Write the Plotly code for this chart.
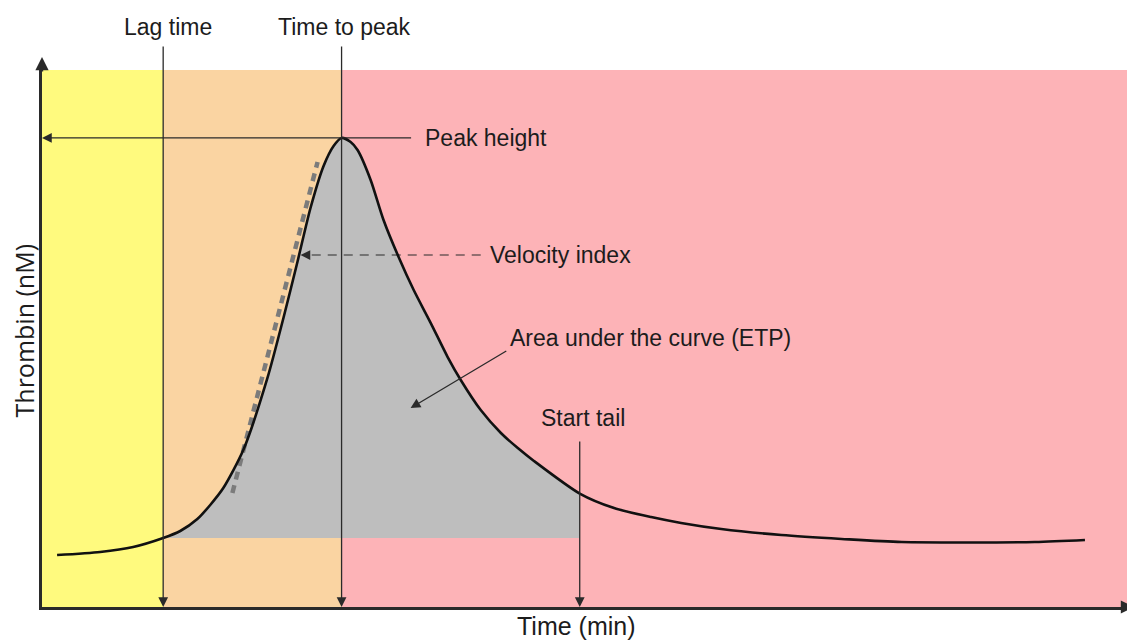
import plotly.graph_objects as go

# ---------------- data ----------------
time_min = [0.83, 3.20, 5.02, 6.67, 7.61, 8.55, 9.26, 9.98, 11.08, 12.41,
            13.29, 14.06, 14.78, 15.50, 16.05, 16.49, 16.99, 17.37, 18.09, 18.80,
            19.63, 20.46, 21.40, 22.33, 23.05, 24.15, 25.26, 26.19, 27.08, 29.60,
            31.49, 33.53, 35.18, 37.39, 40.70, 44.01, 47.32, 54.65, 57.41]
thrombin_nM = [38.7, 41.0, 44.7, 51.4, 56.6, 65.5, 76.0, 88.6, 116.9, 170.6,
               215.3, 257.0, 297.2, 328.5, 343.4, 349.4, 346.4, 340.4, 318.1, 288.3,
               260.7, 236.1, 211.5, 186.2, 169.1, 146.7, 129.6, 118.4, 108.8, 84.5,
               73.7, 67.0, 62.6, 58.1, 53.6, 50.7, 48.4, 48.4, 49.9]

lag_time = 6.67
time_to_peak = 16.49
peak_height = 349.4
start_tail = 29.60
etp_baseline = 51.4

velocity_tangent_t = [10.48, 15.17]
velocity_tangent_y = [84.9, 331.5]
velocity_point_t = 14.23
velocity_point_y = 262.2

x_range = [0, 60]
y_range = [0, 400]

# phases (background bands)
phase_starts = [0, lag_time, time_to_peak]
phase_ends = [lag_time, time_to_peak, x_range[1]]
phase_colors = ["#FFFA7E", "#FAD4A2", "#FDB3B7"]

TXT = "#1c1c1c"
LINE = "#2a2a2a"
FONT = "Liberation Sans, Arial, sans-serif"

fig = go.Figure()

# ETP area (grey), between the baseline and the curve, from lag time to start tail
i0 = time_min.index(lag_time)
i1 = time_min.index(start_tail)
fig.add_trace(go.Scatter(x=[lag_time, start_tail], y=[etp_baseline, etp_baseline],
                         mode="lines", line=dict(width=0, color="rgba(0,0,0,0)"),
                         hoverinfo="skip", showlegend=False))
fig.add_trace(go.Scatter(x=time_min[i0:i1 + 1], y=thrombin_nM[i0:i1 + 1],
                         mode="lines", line=dict(width=0, shape="spline", smoothing=0.7),
                         fill="tonexty", fillcolor="#BEBEBE",
                         hoverinfo="skip", showlegend=False))

# velocity index tangent (thick grey dashes)
fig.add_trace(go.Scatter(x=velocity_tangent_t, y=velocity_tangent_y, mode="lines",
                         line=dict(color="#7b7b7b", width=4.5, dash="8px,6px"),
                         hoverinfo="skip", showlegend=False))

# velocity index pointer (thin dashed)
fig.add_trace(go.Scatter(x=[24.15, velocity_point_t + 0.35], y=[velocity_point_y, velocity_point_y],
                         mode="lines", line=dict(color=LINE, width=1.2, dash="9px,7px"),
                         hoverinfo="skip", showlegend=False))

# thrombin generation curve
fig.add_trace(go.Scatter(x=time_min, y=thrombin_nM, mode="lines",
                         line=dict(color="#111111", width=2.6, shape="spline", smoothing=0.7),
                         hoverinfo="skip", showlegend=False))

# background bands
shapes = []
for x0, x1, c in zip(phase_starts, phase_ends, phase_colors):
    shapes.append(dict(type="rect", xref="x", yref="paper", x0=x0, x1=x1, y0=0, y1=1,
                       fillcolor=c, line=dict(width=0), layer="below"))

ann = []
arrow_common = dict(showarrow=True, arrowhead=2, arrowsize=1.5, arrowwidth=1.3,
                    arrowcolor=LINE, text="", font=dict(size=1), standoff=0)

# vertical indicator arrows
for t, ay in [(lag_time, -562), (time_to_peak, -562), (start_tail, -167)]:
    ann.append(dict(x=t, y=0, xref="x", yref="y", ax=0, ay=ay, **arrow_common))

# peak height arrow to the y axis
ann.append(dict(x=0, y=peak_height, xref="x", yref="y", ax=20.40, ay=peak_height,
                axref="x", ayref="y", **arrow_common))
# velocity index arrow head
ann.append(dict(x=velocity_point_t, y=velocity_point_y, xref="x", yref="y", ax=10, ay=0,
                **arrow_common))
# area arrow
ann.append(dict(x=20.29, y=148.2, xref="x", yref="y", ax=25.64, ay=191.4,
                axref="x", ayref="y", **arrow_common))

# axis arrow heads
ann.append(dict(x=0, y=1.024, xref="x", yref="paper", ax=0, ay=16, showarrow=True,
                arrowhead=2, arrowsize=1.1, arrowwidth=2.4, arrowcolor=LINE, text="",
                font=dict(size=1), standoff=0))
ann.append(dict(x=1.004, y=0, xref="paper", yref="y", ax=-16, ay=0, showarrow=True,
                arrowhead=2, arrowsize=1.1, arrowwidth=2.4, arrowcolor=LINE, text="",
                font=dict(size=1), standoff=0))

# text labels
lab = dict(showarrow=False, font=dict(family=FONT, size=23, color=TXT))
ann.append(dict(text="Lag time", x=lag_time + 0.25, y=1.081, xref="x", yref="paper",
                xanchor="center", yanchor="middle", **lab))
ann.append(dict(text="Time to peak", x=time_to_peak + 0.15, y=1.081, xref="x", yref="paper",
                xanchor="center", yanchor="middle", **lab))
ann.append(dict(text="Peak height", x=20.96, y=peak_height, xref="x", yref="y",
                xanchor="left", yanchor="middle", **lab))
ann.append(dict(text="Velocity index", x=24.54, y=velocity_point_y, xref="x", yref="y",
                xanchor="left", yanchor="middle", **lab))
ann.append(dict(text="Area under the curve (ETP)", x=25.64, y=200.4, xref="x", yref="y",
                xanchor="left", yanchor="middle", **lab))
ann.append(dict(text="Start tail", x=start_tail + 0.2, y=140.8, xref="x", yref="y",
                xanchor="center", yanchor="middle", **lab))

ann.append(dict(text="Time (min)", x=0.49, y=-0.036, xref="paper", yref="paper",
                xanchor="center", yanchor="middle", showarrow=False,
                font=dict(family=FONT, size=25, color=TXT)))
ann.append(dict(text="Thrombin (nM)", x=-0.0165, y=0.515, xref="paper", yref="paper",
                xanchor="center", yanchor="middle", textangle=-90, showarrow=False,
                font=dict(family="Open Sans, Noto Sans, sans-serif", size=25, color=TXT)))

# the page body adds an 8px margin, so the figure is 8px smaller and its
# left/top margins are reduced by 8px to keep the plot area where the reference has it
fig.update_layout(
    width=1127, height=635,
    margin=dict(l=34, r=3, t=62, b=36),
    paper_bgcolor="white", plot_bgcolor="white",
    shapes=shapes, annotations=ann,
    showlegend=False,
    xaxis=dict(range=x_range, showgrid=False, zeroline=False, showticklabels=False,
               ticks="", showline=True, linecolor=LINE, linewidth=2.5, fixedrange=True),
    yaxis=dict(range=y_range, showgrid=False, zeroline=False, showticklabels=False,
               ticks="", showline=True, linecolor=LINE, linewidth=2.5, fixedrange=True),
)

fig.write_html("out.html")
